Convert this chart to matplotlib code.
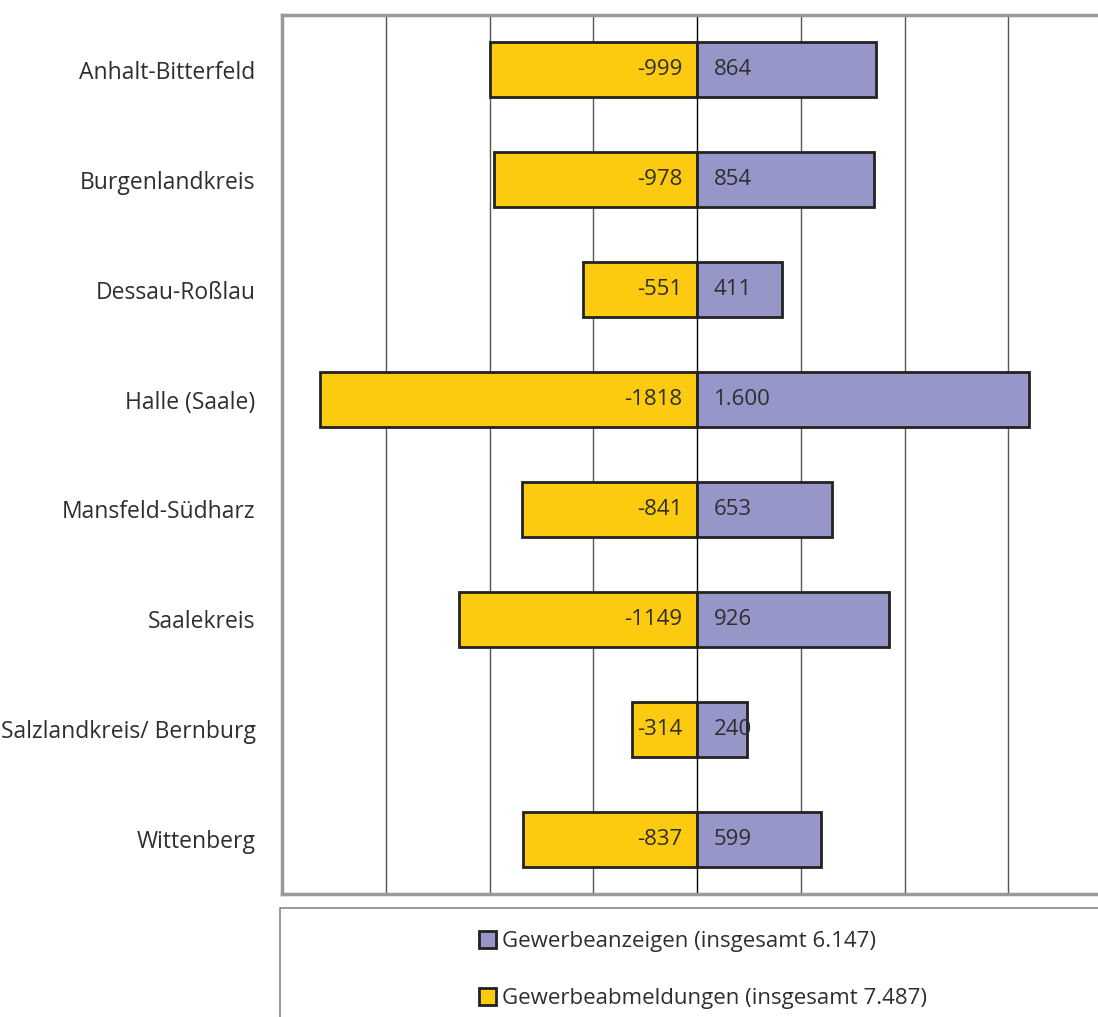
import matplotlib.pyplot as plt
from matplotlib.patches import Patch, Rectangle

plt.rcParams['font.family'] = ['Open Sans', 'DejaVu Sans']

kreise = ['Anhalt-Bitterfeld', 'Burgenlandkreis', 'Dessau-Roßlau', 'Halle (Saale)',
          'Mansfeld-Südharz', 'Saalekreis', 'Salzlandkreis/ Bernburg', 'Wittenberg']
anzeigen = [864, 854, 411, 1600, 653, 926, 240, 599]
abmeldungen = [-999, -978, -551, -1818, -841, -1149, -314, -837]

gelb = '#FCCA0E'
lila = '#9696C8'
txt = '#2e2e2e'

fig = plt.figure(figsize=(10.98, 10.17), dpi=100)
ax = fig.add_axes([282 / 1098, 1 - 894 / 1017, 830 / 1098, 879 / 1017])

pos = list(range(len(kreise)))
ax.barh(pos, abmeldungen, height=0.5, color=gelb, edgecolor='#222222', linewidth=2, zorder=3)
ax.barh(pos, anzeigen, height=0.5, color=lila, edgecolor='#222222', linewidth=2, zorder=3)

def de_fmt(v):
    return f'{v:,}'.replace(',', '.')

for p, a, b in zip(pos, anzeigen, abmeldungen):
    ax.text(-70, p, str(b), ha='right', va='center', fontsize=16, color=txt, zorder=4)
    ax.text(80, p, de_fmt(a), ha='left', va='center', fontsize=16, color=txt, zorder=4)

ax.set_xlim(-2000, 2000)
ax.set_ylim(7.5, -0.5)
ax.set_yticks(pos)
ax.set_yticklabels(kreise, fontsize=16.5, color=txt)
ax.tick_params(axis='y', length=0, pad=19)
ax.set_xticks([])
for x in range(-1500, 2001, 500):
    ax.axvline(x, color='black' if x == 0 else '#555555', linewidth=1, zorder=1)
for s in ['left', 'top', 'bottom', 'right']:
    ax.spines[s].set_color('#999999')
    ax.spines[s].set_linewidth(2.5)

# Legendenkasten
fig.patches.append(Rectangle((280 / 1098, -0.05), 0.8, 0.05 + 1 - 908 / 1017,
                             transform=fig.transFigure, facecolor='white',
                             edgecolor='#888888', linewidth=1.2, clip_on=False))
handles = [Patch(facecolor=lila, edgecolor='#222222', linewidth=2),
           Patch(facecolor=gelb, edgecolor='#222222', linewidth=2)]
labels = ['Gewerbeanzeigen (insgesamt 6.147)', 'Gewerbeabmeldungen (insgesamt 7.487)']
leg = fig.legend(handles, labels, loc='center', bbox_to_anchor=(0.64, 1 - 970 / 1017),
                 frameon=False, fontsize=16, labelspacing=1.6, handlelength=0.8,
                 handleheight=0.8, handletextpad=0.25)
for t in leg.get_texts():
    t.set_color(txt)

fig.savefig('out.png', dpi=100)
